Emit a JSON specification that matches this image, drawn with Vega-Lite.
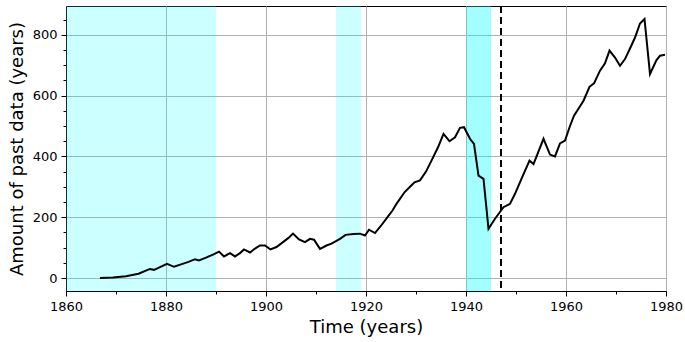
{
  "$schema": "https://vega.github.io/schema/vega-lite/v6.json",
  "width": 600,
  "height": 285,
  "autosize": {"type": "none"},
  "padding": {"left": 66, "top": 6, "right": 19, "bottom": 51},
  "background": "white",
  "config": {
    "font": "DejaVu Sans",
    "view": {"stroke": "black", "strokeWidth": 1},
    "axis": {
      "labelFont": "DejaVu Sans",
      "titleFont": "DejaVu Sans",
      "labelFontSize": 13,
      "titleFontSize": 18,
      "titleFontWeight": "normal",
      "labelColor": "#000000",
      "titleColor": "#000000",
      "domainColor": "#000000",
      "tickColor": "#000000",
      "gridColor": "#b0b0b0",
      "gridWidth": 1
    }
  },
  "datasets": {
    "series": [
      {"year": 1866.8, "amount": 0},
      {"year": 1869.4, "amount": 2},
      {"year": 1872, "amount": 6},
      {"year": 1874.5, "amount": 14},
      {"year": 1876.8, "amount": 30},
      {"year": 1877.6, "amount": 27},
      {"year": 1878.8, "amount": 36},
      {"year": 1880.2, "amount": 47},
      {"year": 1881.6, "amount": 37},
      {"year": 1883, "amount": 45},
      {"year": 1884.5, "amount": 53},
      {"year": 1885.8, "amount": 62},
      {"year": 1886.6, "amount": 58},
      {"year": 1888, "amount": 67},
      {"year": 1889.5, "amount": 78},
      {"year": 1890.6, "amount": 87},
      {"year": 1891.6, "amount": 71},
      {"year": 1892.8, "amount": 82},
      {"year": 1893.8, "amount": 71},
      {"year": 1894.8, "amount": 82},
      {"year": 1895.6, "amount": 94},
      {"year": 1896.8, "amount": 84},
      {"year": 1897.8, "amount": 97},
      {"year": 1898.8, "amount": 107},
      {"year": 1899.8, "amount": 107},
      {"year": 1900.9, "amount": 94},
      {"year": 1902.1, "amount": 102},
      {"year": 1903.4, "amount": 118},
      {"year": 1904.5, "amount": 132},
      {"year": 1905.4, "amount": 146},
      {"year": 1906.6, "amount": 127},
      {"year": 1907.8, "amount": 118},
      {"year": 1908.8, "amount": 129},
      {"year": 1909.6, "amount": 126},
      {"year": 1910.8, "amount": 96},
      {"year": 1912.1, "amount": 107},
      {"year": 1913.1, "amount": 113},
      {"year": 1914.8, "amount": 129},
      {"year": 1915.9, "amount": 142},
      {"year": 1917.5, "amount": 145},
      {"year": 1918.8, "amount": 146},
      {"year": 1919.8, "amount": 140},
      {"year": 1920.6, "amount": 159},
      {"year": 1921.8, "amount": 148},
      {"year": 1923, "amount": 172},
      {"year": 1924.3, "amount": 200},
      {"year": 1925.3, "amount": 222},
      {"year": 1926.1, "amount": 244},
      {"year": 1927.7, "amount": 282},
      {"year": 1928.8, "amount": 300},
      {"year": 1929.7, "amount": 315},
      {"year": 1930.8, "amount": 321},
      {"year": 1932, "amount": 350},
      {"year": 1933.1, "amount": 386},
      {"year": 1934.4, "amount": 430},
      {"year": 1935.5, "amount": 474},
      {"year": 1936.7, "amount": 450},
      {"year": 1937.8, "amount": 463},
      {"year": 1938.8, "amount": 494},
      {"year": 1939.6, "amount": 496},
      {"year": 1940.8, "amount": 458},
      {"year": 1941.6, "amount": 441},
      {"year": 1942.5, "amount": 337},
      {"year": 1943.5, "amount": 326},
      {"year": 1944.5, "amount": 162},
      {"year": 1945.8, "amount": 195},
      {"year": 1947.5, "amount": 233},
      {"year": 1948.8, "amount": 244},
      {"year": 1949.8, "amount": 277},
      {"year": 1951.2, "amount": 330},
      {"year": 1952.7, "amount": 386},
      {"year": 1953.5, "amount": 375},
      {"year": 1955.5, "amount": 458},
      {"year": 1956.8, "amount": 406},
      {"year": 1957.8, "amount": 400},
      {"year": 1958.8, "amount": 443},
      {"year": 1959.8, "amount": 452},
      {"year": 1960.8, "amount": 500},
      {"year": 1961.6, "amount": 534},
      {"year": 1963.5, "amount": 583},
      {"year": 1964.7, "amount": 629},
      {"year": 1965.6, "amount": 640},
      {"year": 1966.8, "amount": 682},
      {"year": 1967.8, "amount": 706},
      {"year": 1968.7, "amount": 748},
      {"year": 1969.8, "amount": 725},
      {"year": 1970.8, "amount": 698},
      {"year": 1971.8, "amount": 720},
      {"year": 1972.8, "amount": 755},
      {"year": 1973.8, "amount": 791},
      {"year": 1974.8, "amount": 837},
      {"year": 1975.7, "amount": 852},
      {"year": 1976.8, "amount": 671},
      {"year": 1978.1, "amount": 717},
      {"year": 1978.8, "amount": 731},
      {"year": 1979.8, "amount": 734}
    ],
    "bands": [
      {"start": 1860, "end": 1890, "kind": "light"},
      {"start": 1914, "end": 1919, "kind": "light"},
      {"start": 1940, "end": 1945, "kind": "dark"}
    ],
    "marker": [{"year": 1947}]
  },
  "layer": [
    {
      "data": {"name": "bands"},
      "mark": {"type": "rect", "fill": "#00ffff"},
      "encoding": {
        "x": {
          "field": "start",
          "type": "quantitative",
          "scale": {"domain": [1860, 1980], "nice": false, "zero": false},
          "axis": {
            "title": "Time (years)",
            "titlePadding": 5,
            "values": [1860,1865,1870,1875,1880,1885,1890,1895,1900,1905,1910,1915,1920,1925,1930,1935,1940,1945,1950,1955,1960,1965,1970,1975,1980],
            "labelExpr": "datum.value % 20 === 0 ? format(datum.value, 'd') : ''",
            "tickSize": {"condition": {"test": "datum.value % 20 === 0", "value": 5}, "value": 3},
            "gridOpacity": {"condition": {"test": "datum.value % 20 === 0", "value": 1}, "value": 0},
            "labelPadding": 4,
            "labelFlush": false
          }
        },
        "x2": {"field": "end"},
        "opacity": {
          "field": "kind",
          "type": "nominal",
          "scale": {"domain": ["light", "dark"], "range": [0.2, 0.36]},
          "legend": null
        }
      }
    },
    {
      "data": {"name": "series"},
      "mark": {"type": "line", "color": "#000000", "strokeWidth": 2},
      "encoding": {
        "x": {"field": "year", "type": "quantitative"},
        "y": {
          "field": "amount",
          "type": "quantitative",
          "scale": {"domain": [-42.6, 894.6], "nice": false, "zero": false},
          "axis": {
            "title": "Amount of past data (years)",
            "titlePadding": 6,
            "values": [0,50,100,150,200,250,300,350,400,450,500,550,600,650,700,750,800,850],
            "labelExpr": "datum.value % 200 === 0 ? format(datum.value, 'd') : ''",
            "tickSize": {"condition": {"test": "datum.value % 200 === 0", "value": 5}, "value": 3},
            "gridOpacity": {"condition": {"test": "datum.value % 200 === 0", "value": 1}, "value": 0},
            "labelPadding": 4
          }
        }
      }
    },
    {
      "data": {"name": "marker"},
      "mark": {"type": "rule", "color": "#000000", "strokeWidth": 2, "strokeDash": [7, 4]},
      "encoding": {
        "x": {"field": "year", "type": "quantitative"}
      }
    }
  ]
}
